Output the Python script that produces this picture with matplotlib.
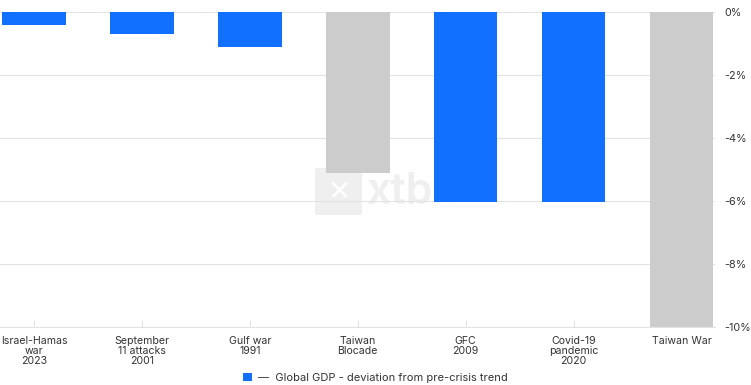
import matplotlib.pyplot as plt
from matplotlib.patches import FancyBboxPatch, Patch

plt.rcParams['font.family'] = ['Inter', 'DejaVu Sans']

events = ["Israel-Hamas\nwar\n2023", "September\n11 attacks\n2001", "Gulf war\n1991",
          "Taiwan\nBlocade", "GFC\n2009", "Covid-19\npandemic\n2020", "Taiwan War"]
gdp_deviation = [-0.4, -0.7, -1.1, -5.1, -6.05, -6.05, -10.0]
scenario = [False, False, False, True, False, False, True]
y_ticks = [0, -2, -4, -6, -8, -10]

blue = "#1170ff"
grey = "#cccccc"
text_color = "#333333"

fig = plt.figure(figsize=(7.51, 3.85), dpi=100)
ax = fig.add_axes([0.0, 0.151, 0.952, 0.818])

colors = [grey if s else blue for s in scenario]
x = list(range(len(events)))
ax.bar(x, gdp_deviation, width=0.59, color=colors, zorder=2)

ax.set_xlim(-0.315, 6.31)
ax.set_ylim(-10, 0)
ax.set_yticks(y_ticks)
ax.set_yticklabels([f"{v}%" for v in y_ticks])
ax.yaxis.tick_right()
ax.grid(axis="y", color="#e3e3e3", linewidth=0.8)
ax.tick_params(axis="y", length=0, pad=6.5, labelsize=7.8, labelcolor=text_color)
ax.set_xticks(x)
ax.set_xticklabels(events, fontsize=7.6, color=text_color, linespacing=1.0)
ax.tick_params(axis="x", direction="in", length=5, color="#e3e3e3", pad=6.5)
for side in ["top", "right", "left"]:
    ax.spines[side].set_visible(False)
ax.spines["bottom"].set_color("#e3e3e3")

# watermark, under grid and bars
logo = FancyBboxPatch((315 / 751, 1 - 215 / 385), 47 / 751, 47 / 385, boxstyle="round,pad=0,rounding_size=0.004",
                      transform=fig.transFigure, facecolor="#efefef", edgecolor="none", zorder=0.3)
ax.add_artist(logo)
ax.text(339 / 751, 1 - 192 / 385, "✕", color="white", fontsize=20, ha="center", va="center",
        family="DejaVu Sans", weight="bold", transform=fig.transFigure, zorder=0.3)
ax.text(367 / 751, 1 - 193 / 385, "xtb", color="#efefef", fontsize=31, ha="left", va="center",
        weight="semibold", transform=fig.transFigure, zorder=0.3)

handles = [Patch(facecolor=blue, edgecolor="none")]
fig.legend(handles, ["—  Global GDP - deviation from pre-crisis trend"], loc="center",
           bbox_to_anchor=(0.5, 1 - 378 / 385), frameon=False, fontsize=8,
           handlelength=0.8, handleheight=0.8, handletextpad=0.6, labelcolor=text_color)

fig.savefig("out.png", dpi=100)
